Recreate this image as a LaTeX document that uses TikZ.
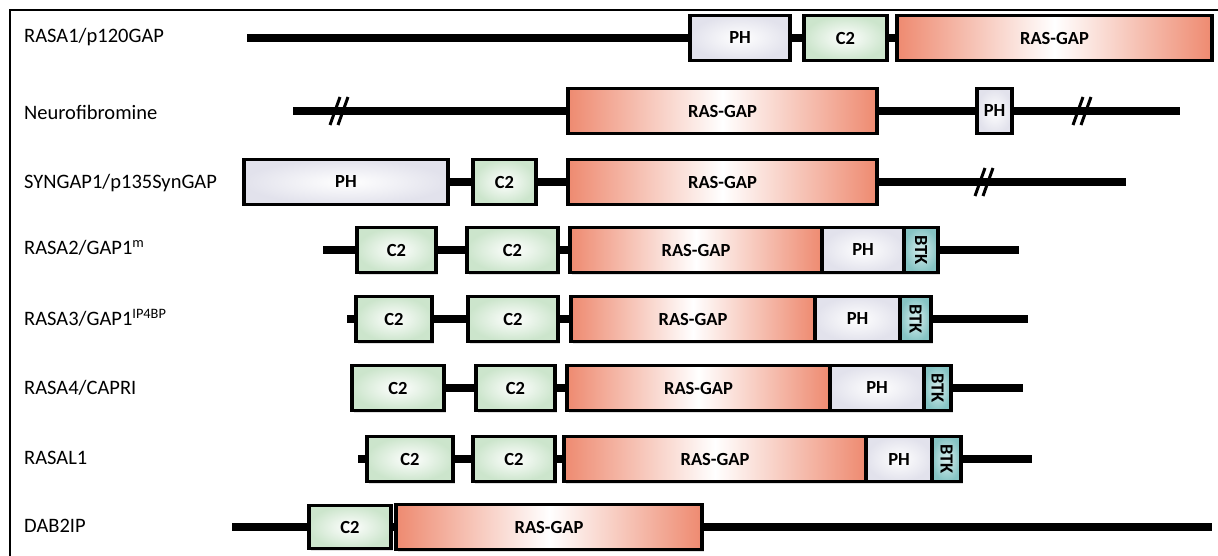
\documentclass[tikz,border=0pt]{standalone}
\usepackage{fontspec}
\setmainfont{Carlito}
\usetikzlibrary{shadows}
\definecolor{gapred}{HTML}{EE8A70}
\definecolor{phgray}{HTML}{E2E2EC}
\definecolor{ctgreen}{HTML}{CCE5CC}
\definecolor{btkteal}{HTML}{86C4C4}
\definecolor{btklight}{HTML}{D8EFEF}

\begin{document}
\begin{tikzpicture}[x=1pt,y=-1pt]
\tikzstyle{every node}=[inner sep=0pt, font=\fontsize{18.5}{18.5}\selectfont\bfseries]
\tikzstyle{dom}=[draw, rectangle, line width=3.4pt, minimum height=45pt,
  drop shadow={shadow xshift=1.5pt, shadow yshift=-2pt, opacity=.25}]
\tikzstyle{gap}=[dom, left color=gapred, right color=gapred, middle color=white]
\tikzstyle{ph}=[dom, inner color=white, outer color=phgray]
\tikzstyle{ctwo}=[dom, inner color=white, outer color=ctgreen]
\tikzstyle{btk}=[dom, inner color=btklight, outer color=btkteal]
\tikzstyle{protein}=[anchor=west, font=\fontsize{20.5}{21}\selectfont]
\tikzstyle{chain}=[line width=8pt]
\tikzstyle{brk}=[line width=3pt]
\useasboundingbox (0,0) rectangle (1218,556);
\draw[line width=2pt] (10,556) -- (10,10) -- (1218,10);

\draw (24,37) node (p1) [protein] {RASA1/p120GAP};
\draw (24,112) node (p2) [protein] {Neurofibromine};
\draw (24,183) node (p3) [protein] {SYNGAP1/p135SynGAP};
\draw (24,248) node (p4) [protein] {RASA2/GAP1\textsuperscript{m}};
\draw (24,318) node (p5) [protein] {RASA3/GAP1\textsuperscript{IP4BP}};
\draw (24,388) node (p6) [protein] {RASA4/CAPRI};
\draw (24,458) node (p7) [protein] {RASAL1};
\draw (24,526) node (p8) [protein] {DAB2IP};

\coordinate (s1) at (247,38);
\draw (740,38) node (r1ph) [ph, minimum width=100pt] {PH};
\draw (845.5,38) node (r1c) [ctwo, minimum width=83pt] {C2};
\draw (1054.5,38) node (r1gap) [gap, minimum width=315pt] {RAS-GAP};
\draw[chain] (s1) -- (r1ph);
\draw[chain] (r1ph) -- (r1c);
\draw[chain] (r1c) -- (r1gap);

\coordinate (s2) at (293,111);
\coordinate (e2) at (1180,111);
\draw (722.5,111) node (r2gap) [gap, minimum width=309pt] {RAS-GAP};
\draw (994.5,111) node (r2ph) [ph, minimum width=35pt] {PH};
\draw[chain] (s2) -- (r2gap);
\draw[chain] (r2gap) -- (r2ph);
\draw[chain] (r2ph) -- (e2);
\draw[brk] (330,125) -- (340,97) (338,125) -- (348,97);
\draw[brk] (1073,125) -- (1083,97) (1081,125) -- (1091,97);

\coordinate (e3) at (1126,182);
\draw (346,182) node (r3ph) [ph, minimum width=204pt] {PH};
\draw (504.5,182) node (r3c) [ctwo, minimum width=63pt] {C2};
\draw (722.5,182) node (r3gap) [gap, minimum width=309pt] {RAS-GAP};
\draw[chain] (r3ph) -- (r3c);
\draw[chain] (r3c) -- (r3gap);
\draw[chain] (r3gap) -- (e3);
\draw[brk] (975,196) -- (985,168) (983,196) -- (993,168);

\coordinate (s4) at (323,250);
\coordinate (e4) at (1019,250);
\draw (396.5,250) node (r4ca) [ctwo, minimum width=79pt] {C2};
\draw (512.5,250) node (r4cb) [ctwo, minimum width=91pt] {C2};
\draw (696,250) node (r4gap) [gap, minimum width=252pt] {RAS-GAP};
\draw (863,250) node (r4ph) [ph, minimum width=82pt] {PH};
\draw (921,250) node (r4btk) [btk, minimum width=34pt] {\rotatebox{-90}{BTK}};
\draw[chain] (s4) -- (r4ca);
\draw[chain] (r4ca) -- (r4cb);
\draw[chain] (r4cb) -- (r4gap);
\draw[chain] (r4btk) -- (e4);

\coordinate (s5) at (347,319);
\coordinate (e5) at (1028,319);
\draw (394,319) node (r5ca) [ctwo, minimum width=76pt] {C2};
\draw (513,319) node (r5cb) [ctwo, minimum width=90pt] {C2};
\draw (693,319) node (r5gap) [gap, minimum width=244pt] {RAS-GAP};
\draw (857.5,319) node (r5ph) [ph, minimum width=85pt] {PH};
\draw (915.5,319) node (r5btk) [btk, minimum width=31pt] {\rotatebox{-90}{BTK}};
\draw[chain] (s5) -- (r5ca);
\draw[chain] (r5ca) -- (r5cb);
\draw[chain] (r5cb) -- (r5gap);
\draw[chain] (r5btk) -- (e5);

\coordinate (e6) at (1023,388);
\draw (398,388) node (r6ca) [ctwo, minimum width=92pt] {C2};
\draw (515.5,388) node (r6cb) [ctwo, minimum width=79pt] {C2};
\draw (698.5,388) node (r6gap) [gap, minimum width=263pt] {RAS-GAP};
\draw (877,388) node (r6ph) [ph, minimum width=94pt] {PH};
\draw (937.5,388) node (r6btk) [btk, minimum width=27pt] {\rotatebox{-90}{BTK}};
\draw[chain] (r6ca) -- (r6cb);
\draw[chain] (r6cb) -- (r6gap);
\draw[chain] (r6btk) -- (e6);

\coordinate (s7) at (358,459);
\coordinate (e7) at (1032,459);
\draw (410,459) node (r7ca) [ctwo, minimum width=86pt] {C2};
\draw (514,459) node (r7cb) [ctwo, minimum width=82pt] {C2};
\draw (715,459) node (r7gap) [gap, minimum width=302pt] {RAS-GAP};
\draw (899,459) node (r7ph) [ph, minimum width=66pt] {PH};
\draw (946.5,459) node (r7btk) [btk, minimum width=29pt] {\rotatebox{-90}{BTK}};
\draw[chain] (s7) -- (r7ca);
\draw[chain] (r7ca) -- (r7cb);
\draw[chain] (r7cb) -- (r7gap);
\draw[chain] (r7btk) -- (e7);

\coordinate (s8) at (232,527);
\coordinate (e8) at (1212,527);
\draw (350,527) node (r8c) [ctwo, minimum width=82pt, minimum height=43pt] {C2};
\draw (549,527) node (r8gap) [gap, minimum width=306pt] {RAS-GAP};
\draw[chain] (s8) -- (r8c);
\draw[chain] (r8c) -- (r8gap);
\draw[chain] (r8gap) -- (e8);
\end{tikzpicture}
\end{document}
